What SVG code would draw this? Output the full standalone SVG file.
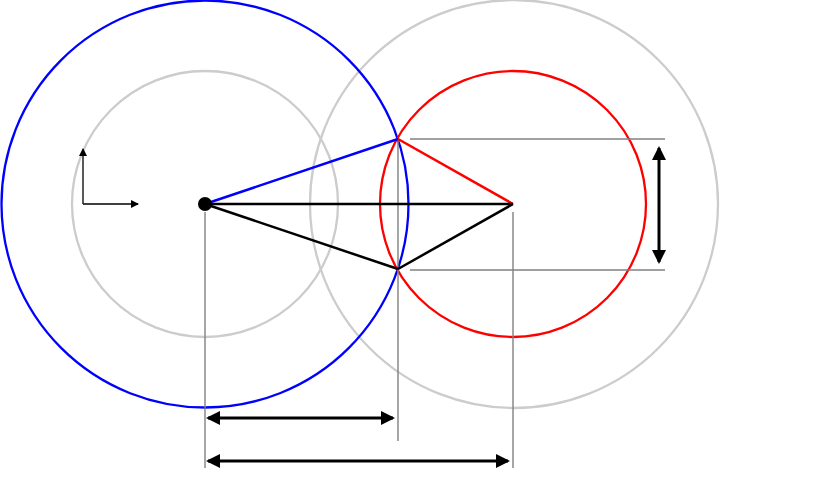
<svg xmlns="http://www.w3.org/2000/svg" width="830" height="501" viewBox="0 0 830 501">
<style>
.circ{fill:none;stroke-width:2.3}
.gray{stroke:#cccccc}
.guide{stroke:#808080;stroke-width:1.4;fill:none}
.dim{stroke:#000;stroke-width:3;fill:none;marker-start:url(#big);marker-end:url(#big)}
.axis{stroke:#000;stroke-width:1.3;fill:none;marker-end:url(#small)}
.seg{stroke-width:2.5;fill:none}
</style>
<defs>
<marker id="big" viewBox="0 0 14 14" refX="12" refY="7" markerWidth="14" markerHeight="14" markerUnits="userSpaceOnUse" orient="auto-start-reverse">
<path d="M0,0 L14,7 L0,14 Z" fill="#000"/>
</marker>
<marker id="small" viewBox="0 0 8 8" refX="7" refY="4" markerWidth="8" markerHeight="8" markerUnits="userSpaceOnUse" orient="auto">
<path d="M0,0 L8,4 L0,8 Z" fill="#000"/>
</marker>
</defs>
<g id="circles">
<circle id="left-inner" class="circ gray" cx="205" cy="204" r="133"/>
<circle id="right-outer" class="circ gray" cx="514" cy="204" r="204"/>
<circle id="blue-circle" class="circ" stroke="#0000ff" cx="205" cy="204" r="203.5"/>
<circle id="red-circle" class="circ" stroke="#ff0000" cx="513" cy="204" r="133"/>
</g>
<g id="connectors">
<line class="guide" x1="398" y1="139" x2="398" y2="441"/>
<line class="guide" x1="205" y1="212" x2="205" y2="468"/>
<line class="guide" x1="513" y1="212" x2="513" y2="468"/>
<line class="guide" x1="410" y1="139" x2="665" y2="139"/>
<line class="guide" x1="410" y1="270" x2="665" y2="270"/>
<line class="seg" stroke="#0000ff" x1="205" y1="204" x2="398" y2="139"/>
<line class="seg" stroke="#ff0000" x1="398" y1="139" x2="513" y2="204"/>
<line class="seg" stroke="#000" x1="205" y1="204" x2="513" y2="204"/>
<line class="seg" stroke="#000" x1="205" y1="204" x2="398" y2="269"/>
<line class="seg" stroke="#000" x1="398" y1="269" x2="513" y2="204"/>
<line class="dim" x1="208" y1="418" x2="393" y2="418"/>
<line class="dim" x1="208" y1="461" x2="508" y2="461"/>
<line class="dim" x1="659" y1="148" x2="659" y2="262"/>
<polyline class="axis" points="83,204 83,149" marker-end="url(#small)"/>
<line class="axis" x1="83" y1="204" x2="138" y2="204"/>
</g>
<g id="center-dot">
<circle cx="205" cy="204" r="7" fill="#000"/>
</g>
</svg>
